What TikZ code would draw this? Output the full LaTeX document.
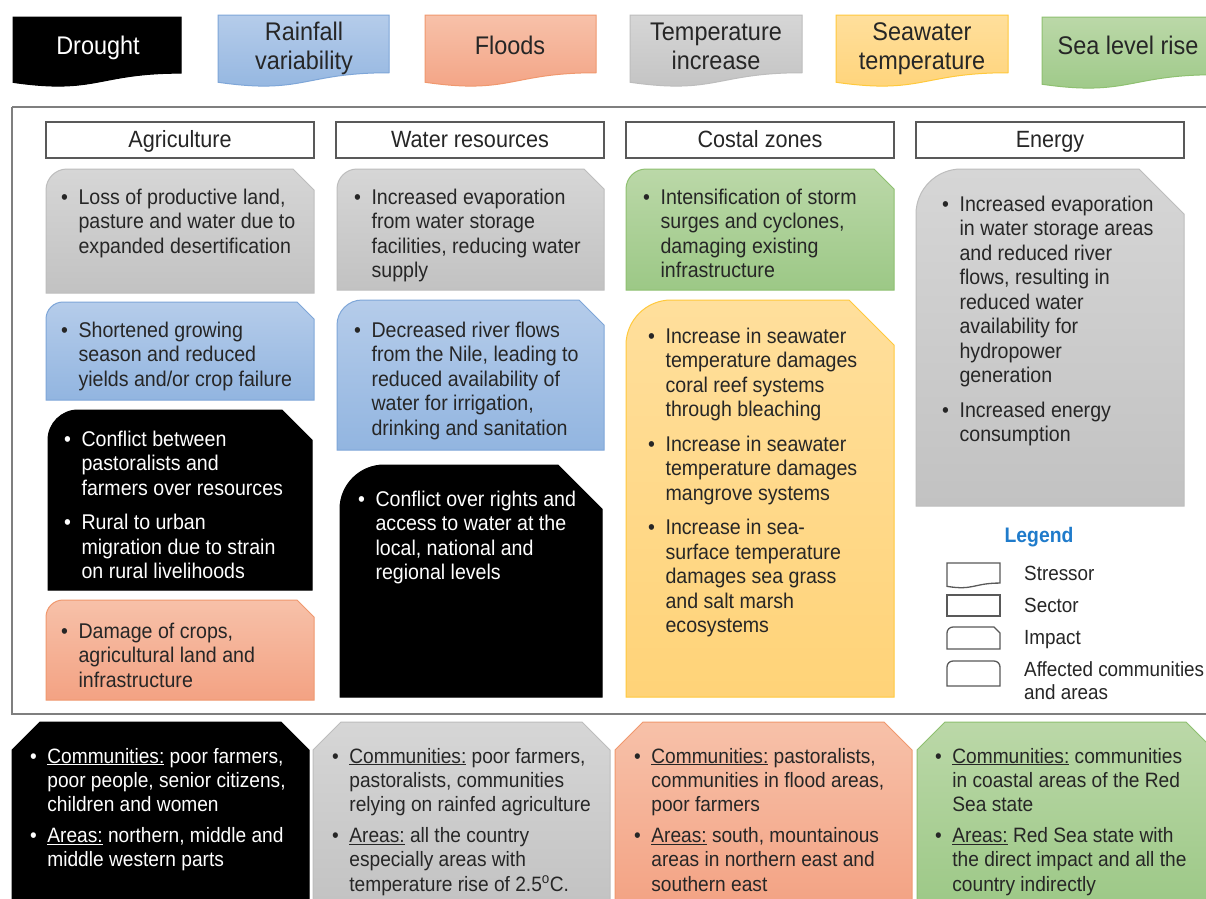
\documentclass[tikz,border=0pt]{standalone}
\usepackage{fontspec}
\setmainfont{Liberation Sans}[FakeStretch=0.92]
\definecolor{gTop}{HTML}{D6D6D6}\definecolor{gBot}{HTML}{C2C2C2}\definecolor{gLine}{HTML}{BDBDBD}
\definecolor{bTop}{HTML}{B5CCEA}\definecolor{bBot}{HTML}{92B5E0}\definecolor{bLine}{HTML}{7EA6D8}
\definecolor{oTop}{HTML}{F7C1A9}\definecolor{oBot}{HTML}{F3A283}\definecolor{oLine}{HTML}{F0986E}
\definecolor{yTop}{HTML}{FFDF9C}\definecolor{yBot}{HTML}{FFD378}\definecolor{yLine}{HTML}{FFC93C}
\definecolor{eTop}{HTML}{BBD8A8}\definecolor{eBot}{HTML}{9CC886}\definecolor{eLine}{HTML}{8EC070}
\definecolor{txtc}{HTML}{262626}
\definecolor{framec}{HTML}{7F7F7F}
\definecolor{legc}{HTML}{1F7BCB}
\definecolor{iconc}{HTML}{595959}
\tikzset{
  gfill/.style={top color=gTop,bottom color=gBot,draw=gLine,line width=1pt},
  bfill/.style={top color=bTop,bottom color=bBot,draw=bLine,line width=1pt},
  ofill/.style={top color=oTop,bottom color=oBot,draw=oLine,line width=1pt},
  yfill/.style={top color=yTop,bottom color=yBot,draw=yLine,line width=1pt},
  efill/.style={top color=eTop,bottom color=eBot,draw=eLine,line width=1pt},
  kfill/.style={fill=black,draw=black,line width=1pt},
  iconbox/.style={fill=white,draw=iconc,line width=1.3pt},
  txt/.style={anchor=base west,inner sep=0pt,font=\fontsize{21.3}{24.5}\selectfont,text=txtc},
  wtxt/.style={txt,text=white},
  btxt/.style={txt,font=\fontsize{20.8}{24.4}\selectfont},
  bwtxt/.style={btxt,text=white},
  strtxt/.style={anchor=base,inner sep=0pt,font=\fontsize{25.5}{29}\selectfont,text=txtc},
  sectorbox/.style={draw=iconc,line width=1.3pt,fill=white,minimum width=268pt,minimum height=36pt,inner sep=0pt,text height=19pt,text depth=4pt,font=\fontsize{23.5}{26}\selectfont,text=txtc},
  legtxt/.style={anchor=base west,inner sep=0pt,font=\fontsize{20.5}{23.5}\selectfont,text=txtc},
}
% impact box: style, x1, y1, x2, y2, r  (rounded top-left, snipped top-right)
\newcommand{\impact}[6]{%
  \path[#1] (#2,#5) -- ({#2},{#3+#6}) .. controls ({#2},{#3+0.45*#6}) and ({#2+0.45*#6},{#3}) .. ({#2+#6},{#3})
    -- ({#4-#6},{#3}) -- ({#4},{#3+#6}) -- (#4,#5) -- cycle;}
% community box: style, x1, x2, y1 (both top corners snipped)
\newcommand{\comm}[4]{%
  \path[#1] (#2,910) -- ({#2},{#4+28}) -- ({#2+28},{#4}) -- ({#3-28},{#4}) -- ({#3},{#4+28}) -- (#3,910) -- cycle;}
% stressor (document shape): style, x1, y1, x2, h
\newcommand{\stressor}[5]{%
  \path[#1] (#2,#3) -- (#4,#3) -- ({#4},{#3+0.802*#5})
    .. controls ({0.5*#2+0.5*#4},{#3+0.802*#5}) and ({0.5*#2+0.5*#4},{#3+1.107*#5}) .. ({#2},{#3+0.934*#5}) -- cycle;}
\newcommand{\blist}[1]{\begin{tabular}[t]{@{}l@{\hspace{10.5pt}}l@{}}#1\end{tabular}}
\newcommand{\twol}[2]{\begin{tabular}[t]{@{}c@{}}#1\\#2\end{tabular}}
\newcommand{\bu}{\textbullet}
\begin{document}
\begin{tikzpicture}[x=1pt,y=-1pt]
\useasboundingbox[fill=white] (0,0) rectangle (1206,898);
% ---------- stressors ----------
\stressor{kfill}{13}{17}{181}{70}
\stressor{bfill}{218}{15}{389}{72}
\stressor{ofill}{425}{15}{596}{72}
\stressor{gfill}{630}{15}{802}{72}
\stressor{yfill}{836}{15}{1008}{72}
\stressor{efill}{1042}{17}{1215}{72}
\node[strtxt,text=white] (s1) at (98,54) {Drought};
\node[strtxt] (s2) at (304,40) {\twol{Rainfall}{variability}};
\node[strtxt] (s3) at (510,54) {Floods};
\node[strtxt] (s4) at (716,40) {\twol{Temperature}{increase}};
\node[strtxt] (s5) at (922,40) {\twol{Seawater}{temperature}};
\node[strtxt] (s6) at (1128,54) {Sea level rise};
% ---------- frame ----------
\draw[framec,line width=2pt] (12,107) -- (1215,107) (12,107) -- (12,714) -- (1215,714);
% ---------- sectors ----------
\node[sectorbox] (sec1) at (180,140) {Agriculture};
\node[sectorbox] (sec2) at (470,140) {Water resources};
\node[sectorbox] (sec3) at (760,140) {Costal zones};
\node[sectorbox] (sec4) at (1050,140) {Energy};
% ---------- impacts: agriculture ----------
\impact{gfill}{46}{169}{314}{293}{21}
\node[txt] (a1) at (61,204) {\blist{\bu & Loss of productive land,\\ & pasture and water due to\\ & expanded desertification}};
\impact{bfill}{46}{302}{314}{400}{17}
\node[txt] (a2) at (61,337) {\blist{\bu & Shortened growing\\ & season and reduced\\ & yields and/or crop failure}};
\impact{kfill}{48}{410}{312}{590}{30}
\node[wtxt] (a3) at (64,446) {\blist{\bu & Conflict between\\ & pastoralists and\\ & farmers over resources\\[10pt]
  \bu & Rural to urban\\ & migration due to strain\\ & on rural livelihoods}};
\impact{ofill}{46}{600}{314}{700}{17}
\node[txt] (a4) at (61,638) {\blist{\bu & Damage of crops,\\ & agricultural land and\\ & infrastructure}};
% ---------- impacts: water ----------
\impact{gfill}{337}{169}{604}{290}{20}
\node[txt] (w1) at (354,204) {\blist{\bu & Increased evaporation\\ & from water storage\\ & facilities, reducing water\\ & supply}};
\impact{bfill}{337}{300}{604}{450}{25}
\node[txt] (w2) at (354,337) {\blist{\bu & Decreased river flows\\ & from the Nile, leading to\\ & reduced availability of\\ & water for irrigation,\\ & drinking and sanitation}};
\impact{kfill}{340}{465}{602}{697}{44}
\node[wtxt] (w3) at (358,506) {\blist{\bu & Conflict over rights and\\ & access to water at the\\ & local, national and\\ & regional levels}};
% ---------- impacts: coastal ----------
\impact{efill}{626}{169}{894}{290}{20}
\node[txt] (c1) at (643,204) {\blist{\bu & Intensification of storm\\ & surges and cyclones,\\ & damaging existing\\ & infrastructure}};
\impact{yfill}{626}{300}{894}{697}{45}
\node[txt] (c2) at (648,343) {\blist{\bu & Increase in seawater\\ & temperature damages\\ & coral reef systems\\ & through bleaching\\[10pt]
  \bu & Increase in seawater\\ & temperature damages\\ & mangrove systems\\[10pt]
  \bu & Increase in sea-\\ & surface temperature\\ & damages sea grass\\ & and salt marsh\\ & ecosystems}};
% ---------- impacts: energy ----------
\impact{gfill}{916}{169}{1184}{506}{45}
\node[txt] (e1) at (942,211) {\blist{\bu & Increased evaporation\\ & in water storage areas\\ & and reduced river\\ & flows, resulting in\\ & reduced water\\ & availability for\\ & hydropower\\ & generation\\[10pt]
  \bu & Increased energy\\ & consumption}};
% ---------- legend ----------
\node[font=\fontsize{21}{24}\selectfont\bfseries,text=legc,inner sep=0pt] (leg) at (1039,537) {Legend};
\stressor{iconbox}{947}{563}{1000}{25}
\draw[iconbox] (947,595) rectangle (1000,616);
\impact{iconbox}{947}{627}{1000}{649}{6}
\path[iconbox] (947,686) -- (947,667) [rounded corners=6pt] -- (947,661) -- (1000,661) [sharp corners] -- (1000,686) -- cycle;
\node[legtxt] (l1) at (1024,580) {Stressor};
\node[legtxt] (l2) at (1024,612) {Sector};
\node[legtxt] (l3) at (1024,644) {Impact};
\node[legtxt] (l4) at (1024,676) {\begin{tabular}[t]{@{}l@{}}Affected communities\\and areas\end{tabular}};
% ---------- affected communities ----------
\comm{kfill}{12}{309}{722}
\node[bwtxt] (b1) at (30,763) {\blist{\bu & \underline{Communities:} poor farmers,\\ & poor people, senior citizens,\\ & children and women\\[6pt]
  \bu & \underline{Areas:} northern, middle and\\ & middle western parts}};
\comm{gfill}{313}{610}{722}
\node[btxt] (b2) at (332,763) {\blist{\bu & \underline{Communities:} poor farmers,\\ & pastoralists, communities\\ & relying on rainfed agriculture\\[6pt]
  \bu & \underline{Areas:} all the country\\ & especially areas with\\ & temperature rise of 2.5\textsuperscript{o}C.}};
\comm{ofill}{615}{912}{722}
\node[btxt] (b3) at (634,763) {\blist{\bu & \underline{Communities:} pastoralists,\\ & communities in flood areas,\\ & poor farmers\\[6pt]
  \bu & \underline{Areas:} south, mountainous\\ & areas in northern east and\\ & southern east}};
\comm{efill}{917}{1214}{722}
\node[btxt] (b4) at (935,763) {\blist{\bu & \underline{Communities:} communities\\ & in coastal areas of the Red\\ & Sea state\\[6pt]
  \bu & \underline{Areas:} Red Sea state with\\ & the direct impact and all the\\ & country indirectly}};
\end{tikzpicture}
\end{document}
